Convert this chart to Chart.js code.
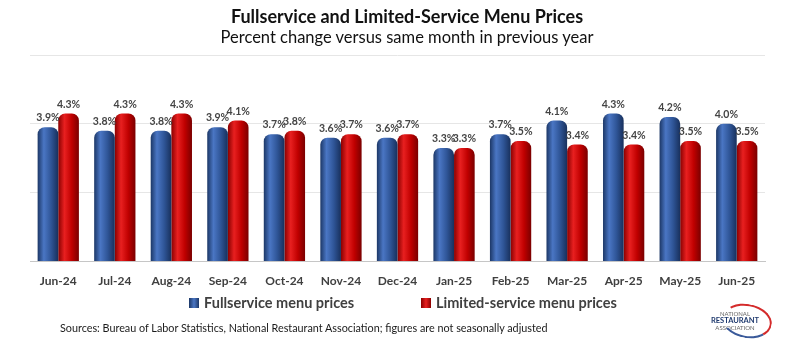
<!DOCTYPE html>
<html>
<head>
<meta charset="utf-8">
<script src="https://cdn.jsdelivr.net/npm/chart.js@4.4.1/dist/chart.umd.min.js"></script>
<style>
  html, body { margin: 0; padding: 0; background: #fff; }
  #wrap { position: relative; width: 798px; height: 341px; overflow: hidden; font-family: Lato, "Open Sans", sans-serif; }
  #chart { position: absolute; left: 0; top: 0; }
  .title { position: absolute; left: 8px; width: 798px; text-align: center; color: #111; }
  #t1 { top: 5px; font-size: 18px; font-weight: bold; }
  #t2 { top: 27px; font-size: 16.5px; }
  .leg { position: absolute; top: 294px; font-size: 14.5px; font-weight: bold; color: #404040; white-space: nowrap; }
  .leg i { display: inline-block; width: 10px; height: 10px; margin-right: 5px; vertical-align: 0px; }
  #note { position: absolute; left: 60px; top: 321px; font-size: 10.8px; color: #1a1a1a; white-space: nowrap; }
  #logo { position: absolute; left: 704px; top: 310px; width: 62px; height: 30px; font-size: 6px; text-align: center; color: #666; line-height: 7px; }
  #logo b { color: #1f3a6e; font-size: 7.5px; }
  #logo .arc { position: absolute; left: 18px; top: -6px; width: 46px; height: 30px; border: 2px solid transparent; border-top-color: #d42b2b; border-right-color: #d42b2b; border-bottom-color: #3a5a9a; border-radius: 50%; transform: rotate(10deg); }
</style>
</head>
<body>
<div id="wrap">
  <canvas id="chart" width="798" height="341"></canvas>
  <div class="title" id="t1">Fullservice and Limited-Service Menu Prices</div>
  <div class="title" id="t2">Percent change versus same month in previous year</div>
  <div class="leg" style="left:189px"><i style="background:linear-gradient(90deg,#1c3766,#4a76c4,#1c3766)"></i>Fullservice menu prices</div>
  <div class="leg" style="left:421px"><i style="background:linear-gradient(90deg,#8a0000,#e82020,#8a0000)"></i>Limited-service menu prices</div>
  <div id="note">Sources: Bureau of Labor Statistics, National Restaurant Association; figures are not seasonally adjusted</div>
  <div id="logo"><div class="arc"></div>NATIONAL<br><b>RESTAURANT</b><br>ASSOCIATION</div>
</div>
<script>
// Chart data
const months = ['Jun-24', 'Jul-24', 'Aug-24', 'Sep-24', 'Oct-24', 'Nov-24', 'Dec-24',
                'Jan-25', 'Feb-25', 'Mar-25', 'Apr-25', 'May-25', 'Jun-25'];
const fullservice = [3.9, 3.8, 3.8, 3.9, 3.7, 3.6, 3.6, 3.3, 3.7, 4.1, 4.3, 4.2, 4.0];
const limitedService = [4.3, 4.3, 4.3, 4.1, 3.8, 3.7, 3.7, 3.3, 3.5, 3.4, 3.4, 3.5, 3.5];
const yTicks = [0, 2, 4, 6];

const catPct = 0.73;
const blueShades = ['#1c3766', '#4a76c4', '#2f5597', '#18305c'];
const redShades = ['#8a0000', '#e82020', '#c00000', '#7a0000'];

// Cylinder look: horizontal gradient across each bar, worked out from the x scale
function barFill(ctx) {
    const shades = ctx.datasetIndex === 0 ? blueShades : redShades;
    const chart = ctx.chart;
    const xs = chart.scales.x;
    if (!xs || !chart.chartArea || ctx.dataIndex === undefined) return shades[2];
    const c = xs.getPixelForValue(ctx.dataIndex);
    const w = xs.width / months.length * catPct / 2;
    const x0 = ctx.datasetIndex === 0 ? c - w : c;
    const g = chart.ctx.createLinearGradient(x0, 0, x0 + w, 0);
    g.addColorStop(0, shades[0]);
    g.addColorStop(0.3, shades[1]);
    g.addColorStop(0.65, shades[2]);
    g.addColorStop(1, shades[3]);
    return g;
}

// Value labels above the bars
const valueLabels = {
    id: 'valueLabels',
    afterDatasetsDraw(chart) {
        const ctx = chart.ctx;
        ctx.save();
        ctx.font = 'bold 10.5px Lato, sans-serif';
        ctx.fillStyle = '#444';
        ctx.textAlign = 'center';
        ctx.textBaseline = 'bottom';
        chart.data.datasets.forEach((ds, i) => {
            chart.getDatasetMeta(i).data.forEach((bar, j) => {
                ctx.fillText(ds.data[j].toFixed(1) + '%', bar.x, bar.y - 4);
            });
        });
        ctx.restore();
    }
};

const barStyle = {
    categoryPercentage: catPct,
    barPercentage: 1.0,
    backgroundColor: barFill,
    borderColor: 'rgba(0,0,0,0)',
    borderRadius: 7,
    borderSkipped: 'start',
    borderWidth: 0
};

new Chart(document.getElementById('chart'), {
    type: 'bar',
    data: {
        labels: months,
        datasets: [
            Object.assign({ label: 'Fullservice menu prices', data: fullservice }, barStyle),
            Object.assign({ label: 'Limited-service menu prices', data: limitedService }, barStyle)
        ]
    },
    options: {
        responsive: false,
        animation: false,
        layout: { padding: { top: 55, left: 30, right: 33, bottom: 49 } },
        scales: {
            x: {
                grid: { display: false },
                border: { color: '#c6c6c6' },
                ticks: { color: '#404040', padding: 4, font: { family: 'Lato', size: 12, weight: 'bold' } }
            },
            y: {
                min: yTicks[0],
                max: yTicks[yTicks.length - 1],
                afterBuildTicks: axis => { axis.ticks = yTicks.map(v => ({ value: v })); },
                ticks: { display: false },
                grid: { color: '#e6e6e6', drawTicks: false },
                border: { display: false }
            }
        },
        plugins: {
            legend: { display: false },
            tooltip: { enabled: false }
        }
    },
    plugins: [valueLabels]
});
</script>
</body>
</html>
